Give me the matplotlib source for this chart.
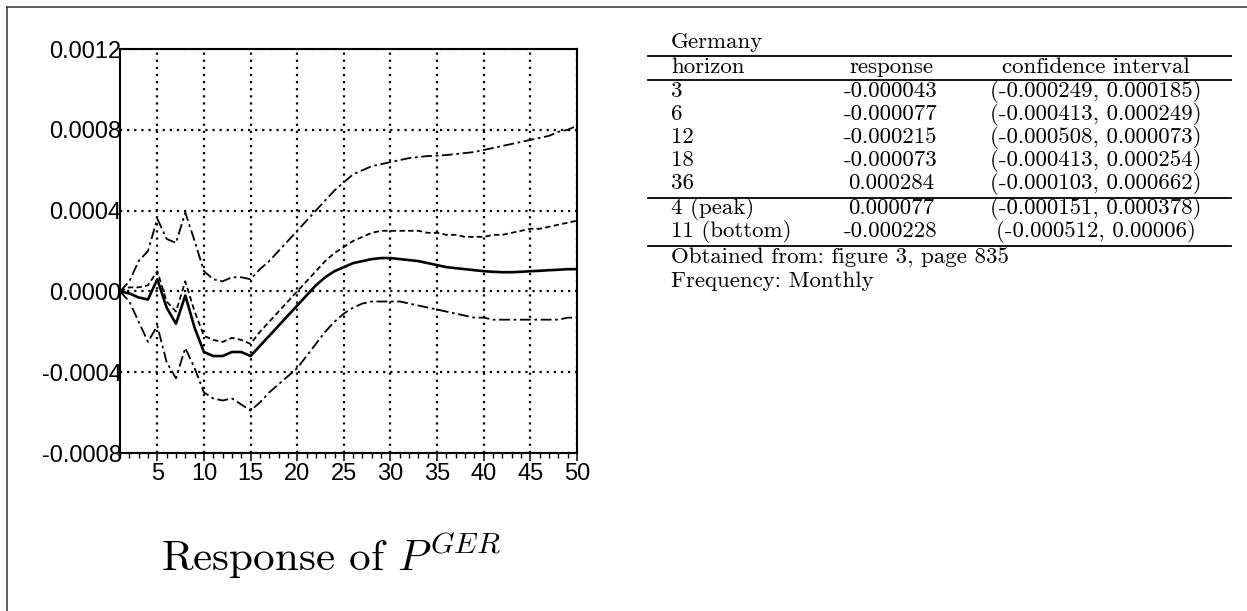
import matplotlib.pyplot as plt
from matplotlib.lines import Line2D
from matplotlib.ticker import MultipleLocator

# impulse response of P^GER (horizons 1..50)
horizon = list(range(1, 51))
response = [0.0, -0.00001, -0.00003, -0.00004, 0.00006, -0.00008, -0.00016, -0.00002, -0.00018, -0.0003,
            -0.00032, -0.00032, -0.0003, -0.0003, -0.00032, -0.00027, -0.00022, -0.00017, -0.00012, -0.00007,
            -0.00002, 0.00003, 0.00007, 0.0001, 0.00012, 0.00014, 0.00015, 0.00016, 0.000165, 0.000165,
            0.00016, 0.000155, 0.00015, 0.00014, 0.00013, 0.00012, 0.000115, 0.00011, 0.000105, 0.0001,
            0.000097, 0.000095, 0.000095, 0.000097, 0.0001, 0.000102, 0.000105, 0.000107, 0.00011, 0.00011]
upper_outer = [0.0, 0.00005, 0.00015, 0.0002, 0.00036, 0.00026, 0.00024, 0.00039, 0.00025, 0.0001,
               0.00006, 0.00005, 0.00007, 0.00007, 0.00006, 0.00011, 0.00015, 0.0002, 0.00025, 0.0003,
               0.00035, 0.0004, 0.00045, 0.0005, 0.00054, 0.00058, 0.0006, 0.00062, 0.00063, 0.00064,
               0.00065, 0.00066, 0.000665, 0.00067, 0.000672, 0.000675, 0.00068, 0.000685, 0.00069, 0.0007,
               0.00071, 0.00072, 0.00073, 0.00074, 0.00075, 0.00076, 0.00077, 0.00079, 0.0008, 0.00082]
upper_inner = [0.0, 0.00002, 0.00002, 0.00003, 0.0001, -0.00005, -0.0001, 0.00005, -0.0001, -0.00022,
               -0.00024, -0.00025, -0.00023, -0.00024, -0.00026, -0.0002, -0.00015, -0.0001, -0.00005, 0.0,
               0.00005, 0.0001, 0.00015, 0.00019, 0.00022, 0.00025, 0.00027, 0.00029, 0.0003, 0.0003,
               0.0003, 0.0003, 0.0003, 0.00029, 0.00029, 0.00028, 0.00028, 0.00027, 0.00027, 0.00027,
               0.00028, 0.00028, 0.00029, 0.0003, 0.00031, 0.00031, 0.00032, 0.00033, 0.00034, 0.00035]
lower = [0.0, -0.00005, -0.00015, -0.00025, -0.00017, -0.00035, -0.00043, -0.00028, -0.00038, -0.0005,
         -0.00053, -0.00054, -0.00053, -0.00056, -0.00059, -0.00055, -0.0005, -0.00046, -0.00042, -0.00038,
         -0.00032, -0.00026, -0.0002, -0.00015, -0.00011, -0.00008, -0.00006, -0.00005, -0.00005, -0.00005,
         -0.00005, -0.00006, -0.00007, -0.00008, -0.00009, -0.0001, -0.00011, -0.00012, -0.00013, -0.00013,
         -0.00014, -0.00014, -0.00014, -0.00014, -0.00014, -0.00014, -0.00014, -0.00014, -0.00013, -0.00013]

y_ticks = [-0.0008, -0.0004, 0.0, 0.0004, 0.0008, 0.0012]
y_labels = ['-0.0008', '-0.0004', '0.0000', '0.0004', '0.0008', '0.0012']
x_ticks = [5, 10, 15, 20, 25, 30, 35, 40, 45, 50]

table_country = 'Germany'
table_header = ['horizon', 'response', 'confidence interval']
table_rows = [('3', '-0.000043', '(-0.000249, 0.000185)'),
              ('6', '-0.000077', '(-0.000413, 0.000249)'),
              ('12', '-0.000215', '(-0.000508, 0.000073)'),
              ('18', '-0.000073', '(-0.000413, 0.000254)'),
              ('36', '0.000284', '(-0.000103, 0.000662)')]
table_extra = [('4 (peak)', '0.000077', '(-0.000151, 0.000378)'),
               ('11 (bottom)', '-0.000228', '(-0.000512, 0.00006)')]
notes = ['Obtained from: figure 3, page 835', 'Frequency: Monthly']

plt.rcParams['mathtext.fontset'] = 'cm'

W, H = 1247, 611
fig = plt.figure(figsize=(W / 100, H / 100), dpi=100)


def fx(x):
    return x / W


def fy(y):
    return 1 - y / H


# page frame (top and left edges only)
fig.add_artist(Line2D([fx(7), fx(W)], [fy(7), fy(7)], color='#333333', lw=1.1))
fig.add_artist(Line2D([fx(7), fx(7)], [fy(7), fy(H)], color='#333333', lw=1.1))

ax = fig.add_axes([fx(120), fy(453), (577 - 120) / W, (453 - 49) / H])
ax.plot(horizon, upper_outer, color='black', lw=1.3, dashes=(6, 2, 1.5, 2))
ax.plot(horizon, upper_inner, color='black', lw=1.3, dashes=(3, 1.8))
ax.plot(horizon, response, color='black', lw=1.9)
ax.plot(horizon, lower, color='black', lw=1.3, dashes=(6, 2, 1.5, 2))

ax.set_xlim(1, 50)
ax.set_ylim(-0.0008, 0.0012)
ax.set_xticks(x_ticks)
ax.xaxis.set_minor_locator(MultipleLocator(1))
ax.set_yticks(y_ticks)
ax.set_yticklabels(y_labels)
ax.grid(True, which='major', color='black', lw=1.6, linestyle=(0, (1, 2.2)))
for s in ax.spines.values():
    s.set_linewidth(1.5)
ax.tick_params(axis='x', which='major', direction='out', length=6, width=1.1, pad=1.5,
               labelsize=17)
ax.tick_params(axis='x', which='minor', direction='out', length=3.5, width=1.0)
ax.tick_params(axis='y', length=0, pad=-1, labelsize=17)
for lab in ax.get_xticklabels() + ax.get_yticklabels():
    lab.set_family('Liberation Sans')

fig.text(fx(331), fy(571), r'Response of $P^{GER}$', family='cmr10', fontsize=31,
         ha='center', va='baseline')

# table on the right
tkw = dict(family='cmr10', fontsize=16.5, va='baseline')
col_left = 671
col_resp = 891
col_ci = 1096
rule_x = [fx(648), fx(1231)]

fig.text(fx(col_left), fy(48), table_country, ha='left', **tkw)
for yy in [56, 80, 198, 246]:
    fig.add_artist(Line2D(rule_x, [fy(yy), fy(yy)], color='black', lw=1.3))

fig.text(fx(col_left), fy(73), table_header[0], ha='left', **tkw)
fig.text(fx(col_resp), fy(73), table_header[1], ha='center', **tkw)
fig.text(fx(col_ci), fy(73), table_header[2], ha='center', **tkw)

row_base = [97, 120, 143, 166, 189]
for yy, (h, r, ci) in zip(row_base, table_rows):
    fig.text(fx(col_left), fy(yy), h, ha='left', **tkw)
    fig.text(fx(col_resp), fy(yy), r, ha='center', **tkw)
    fig.text(fx(col_ci), fy(yy), ci, ha='center', **tkw)

for yy, (h, r, ci) in zip([214, 237], table_extra):
    fig.text(fx(col_left), fy(yy), h, ha='left', **tkw)
    fig.text(fx(col_resp), fy(yy), r, ha='center', **tkw)
    fig.text(fx(col_ci), fy(yy), ci, ha='center', **tkw)

for yy, note in zip([264, 287], notes):
    fig.text(fx(col_left), fy(yy), note, ha='left', **tkw)

fig.savefig('out.png', dpi=100)
